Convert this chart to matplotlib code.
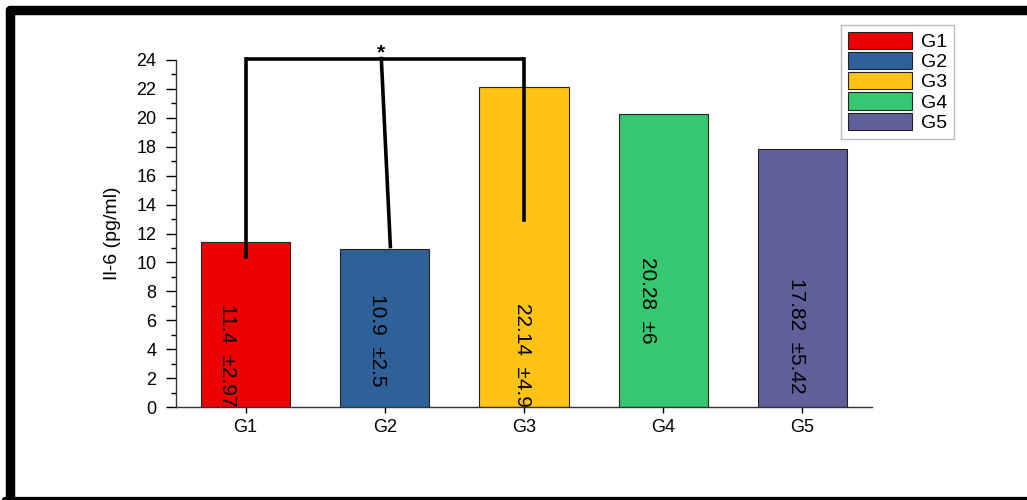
import matplotlib
matplotlib.use("Agg")
import matplotlib.pyplot as plt
from matplotlib.lines import Line2D
from matplotlib.ticker import MultipleLocator

plt.rcParams['font.family'] = ['Liberation Sans', 'DejaVu Sans']

groups = ['G1', 'G2', 'G3', 'G4', 'G5']
means = [11.4, 10.9, 22.14, 20.28, 17.82]
sds = ['2.97', '2.5', '4.9', '6', '5.42']
colors = ['#ee0000', '#2f6199', '#ffc316', '#38c771', '#605f99']

# significance bracket between G1, G2 and G3
bracket_top = 24.1
bracket_feet = [10.4, 11.1, 12.9]

# where the rotated value labels sit inside each bar
label_x = [0.87, 1.95, 2.99, 3.89, 4.96]
label_y = [3.6, 4.6, 3.6, 7.4, 4.9]

fig = plt.figure(figsize=(10.27, 5.0), dpi=100)
ax = fig.add_axes([176 / 1027, 1 - 407 / 500, (872 - 176) / 1027, (407 - 60) / 500])

x = list(range(1, len(groups) + 1))
bars = ax.bar(x, means, width=0.64, color=colors, edgecolor='#222222', linewidth=0.8,
              label=groups, zorder=2)

for xi, yi, m, s in zip(label_x, label_y, means, sds):
    ax.text(xi, yi, f"{m:g}  \u00b1{s}", rotation=-90, ha='center', va='center',
            fontsize=15, zorder=3)

# bracket
lw = 2.6
ax.plot([1, 3], [bracket_top, bracket_top], color='black', lw=lw, clip_on=False,
        solid_capstyle='butt', zorder=4)
ax.plot([1, 1], [bracket_top, bracket_feet[0]], color='black', lw=lw, clip_on=False, zorder=4)
ax.plot([1.975, 2.04], [bracket_top, bracket_feet[1]], color='black', lw=lw, clip_on=False, zorder=4)
ax.plot([3, 3], [bracket_top, bracket_feet[2]], color='black', lw=lw, clip_on=False, zorder=4)
ax.text(1.97, 24.1, '*', ha='center', va='baseline', fontsize=15,
        fontweight='bold', zorder=5, clip_on=False)

ax.set_xlim(0.5, 5.5)
ax.set_ylim(0, 24)
ax.set_xticks(x)
ax.set_xticklabels(groups, fontsize=13)
ax.yaxis.set_major_locator(MultipleLocator(2))
ax.yaxis.set_minor_locator(MultipleLocator(1))
ax.tick_params(axis='y', which='major', direction='out', length=7, width=1, pad=7,
               labelsize=13)
ax.tick_params(axis='y', which='minor', direction='out', length=3.5, width=1)
ax.tick_params(axis='x', which='major', direction='out', length=4.5, width=1, pad=4)
for side in ['top', 'right']:
    ax.spines[side].set_visible(False)
for side in ['left', 'bottom']:
    ax.spines[side].set_linewidth(1)
    ax.spines[side].set_color('#333333')

ax.set_ylabel('Il-6 (pg/ml)', fontsize=14, labelpad=11)

leg = ax.legend(handles=bars, labels=groups, loc='upper left',
                bbox_to_anchor=(841 / 1027, 1 - 25 / 500), bbox_transform=fig.transFigure,
                fontsize=14, handlelength=3.3, handleheight=0.98, labelspacing=0.05,
                handletextpad=0.45, borderpad=0.35, borderaxespad=0, fancybox=False,
                framealpha=1, edgecolor='#bbbbbb')
leg.get_frame().set_linewidth(1)

# thick black border around the picture
W, H = 1027, 500
def fx(px):
    return px / W
def fy(py):
    return 1 - py / H
border = dict(color='black', transform=fig.transFigure, solid_capstyle='round')
fig.add_artist(Line2D([fx(9.5), fx(1040)], [fy(9.5), fy(9.5)], lw=6.8, **border))
fig.add_artist(Line2D([fx(9.5), fx(9.5)], [fy(9.5), fy(505)], lw=6.8, **border))
fig.add_artist(Line2D([fx(5), fx(1040)], [fy(499.5), fy(499.5)], lw=4.5, **border))

fig.savefig('out.png', dpi=100)
